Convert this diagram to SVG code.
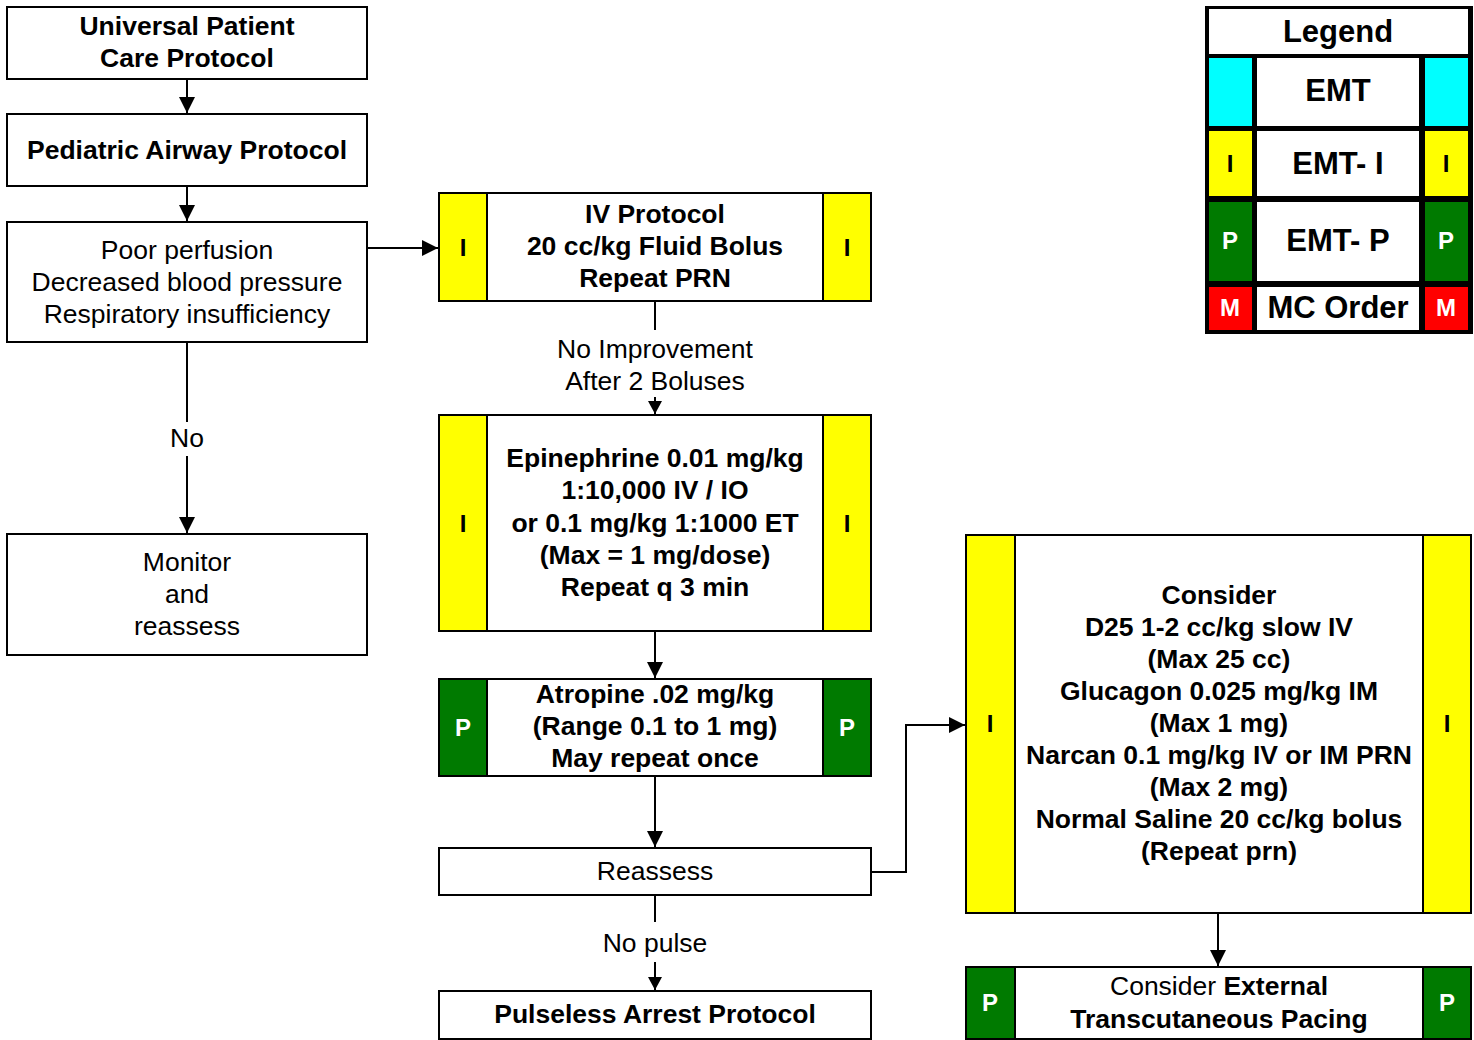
<svg xmlns="http://www.w3.org/2000/svg" width="1474" height="1040" viewBox="0 0 1474 1040">
<defs>
<marker id="ah" viewBox="0 0 16 16" refX="16" refY="8" markerWidth="16" markerHeight="16" markerUnits="userSpaceOnUse" orient="auto">
<path d="M0,0 L16,8 L0,16 Z" fill="#000"/>
</marker>
<marker id="ahs" viewBox="0 0 13 14" refX="13" refY="7" markerWidth="13" markerHeight="14" markerUnits="userSpaceOnUse" orient="auto">
<path d="M0,0 L13,7 L0,14 Z" fill="#000"/>
</marker>
</defs>
<style>
.box{fill:#fff;stroke:#000;stroke-width:2}
.y{fill:#ffff00;stroke:#000;stroke-width:2}
.g{fill:#007a00;stroke:#000;stroke-width:2}
.t{font-family:"Liberation Sans",Arial,sans-serif;font-size:26.5px;text-anchor:middle;fill:#000}
.b{font-weight:bold}
.w{fill:#fff}
.c{fill:none;stroke:#000;stroke-width:2}
.lg{font-size:31px}
.tag{font-size:24px;font-weight:bold}
</style>
<rect width="1474" height="1040" fill="#fff"/>

<g id="connectors">
<path class="c" d="M187,79 V113" marker-end="url(#ah)"/>
<path class="c" d="M187,186 V221" marker-end="url(#ah)"/>
<path class="c" d="M187,342 V422"/>
<path class="c" d="M187,456 V533" marker-end="url(#ah)"/>
<path class="c" d="M367,248 H438" marker-end="url(#ah)"/>
<path class="c" d="M655,301 V330"/>
<path class="c" d="M655,397 V414" marker-end="url(#ahs)"/>
<path class="c" d="M655,631 V678" marker-end="url(#ah)"/>
<path class="c" d="M655,776 V847" marker-end="url(#ah)"/>
<path class="c" d="M871,872 H906 V725 H965" marker-end="url(#ah)"/>
<path class="c" d="M655,895 V922"/>
<path class="c" d="M655,962 V990" marker-end="url(#ahs)"/>
<path class="c" d="M1218,913 V966" marker-end="url(#ah)"/>
<text class="t" x="187" y="447">No</text>
<text class="t" x="655" y="358">No Improvement</text>
<text class="t" x="655" y="390">After 2 Boluses</text>
<text class="t" x="655" y="952">No pulse</text>
</g>

<g id="universal">
<rect class="box" x="7" y="7" width="360" height="72"/>
<text class="t b" x="187" y="35">Universal Patient</text>
<text class="t b" x="187" y="67">Care Protocol</text>
</g>

<g id="pediatric-airway">
<rect class="box" x="7" y="114" width="360" height="72"/>
<text class="t b" x="187" y="159">Pediatric Airway Protocol</text>
</g>

<g id="poor-perfusion">
<rect class="box" x="7" y="222" width="360" height="120"/>
<text class="t" x="187" y="259">Poor perfusion</text>
<text class="t" x="187" y="291">Decreased blood pressure</text>
<text class="t" x="187" y="323">Respiratory insufficiency</text>
</g>

<g id="monitor">
<rect class="box" x="7" y="534" width="360" height="121"/>
<text class="t" x="187" y="571">Monitor</text>
<text class="t" x="187" y="603">and</text>
<text class="t" x="187" y="635">reassess</text>
</g>

<g id="iv-protocol">
<rect class="box" x="439" y="193" width="432" height="108"/>
<rect class="y" x="439" y="193" width="48" height="108"/>
<rect class="y" x="823" y="193" width="48" height="108"/>
<text class="t tag" x="463" y="256">I</text>
<text class="t tag" x="847" y="256">I</text>
<text class="t b" x="655" y="223">IV Protocol</text>
<text class="t b" x="655" y="255">20 cc/kg Fluid Bolus</text>
<text class="t b" x="655" y="287">Repeat PRN</text>
</g>

<g id="epinephrine">
<rect class="box" x="439" y="415" width="432" height="216"/>
<rect class="y" x="439" y="415" width="48" height="216"/>
<rect class="y" x="823" y="415" width="48" height="216"/>
<text class="t tag" x="463" y="532">I</text>
<text class="t tag" x="847" y="532">I</text>
<text class="t b" x="655" y="467">Epinephrine 0.01 mg/kg</text>
<text class="t b" x="655" y="499">1:10,000 IV / IO</text>
<text class="t b" x="655" y="532">or 0.1 mg/kg 1:1000 ET</text>
<text class="t b" x="655" y="564">(Max = 1 mg/dose)</text>
<text class="t b" x="655" y="596">Repeat q 3 min</text>
</g>

<g id="atropine">
<rect class="box" x="439" y="679" width="432" height="97"/>
<rect class="g" x="439" y="679" width="48" height="97"/>
<rect class="g" x="823" y="679" width="48" height="97"/>
<text class="t tag w" x="463" y="736">P</text>
<text class="t tag w" x="847" y="736">P</text>
<text class="t b" x="655" y="703">Atropine .02 mg/kg</text>
<text class="t b" x="655" y="735">(Range 0.1 to 1 mg)</text>
<text class="t b" x="655" y="767">May repeat once</text>
</g>

<g id="reassess">
<rect class="box" x="439" y="848" width="432" height="47"/>
<text class="t" x="655" y="880">Reassess</text>
</g>

<g id="pulseless">
<rect class="box" x="439" y="991" width="432" height="48"/>
<text class="t b" x="655" y="1023">Pulseless Arrest Protocol</text>
</g>

<g id="consider">
<rect class="box" x="966" y="535" width="505" height="378"/>
<rect class="y" x="966" y="535" width="49" height="378"/>
<rect class="y" x="1423" y="535" width="48" height="378"/>
<text class="t tag" x="990" y="732">I</text>
<text class="t tag" x="1447" y="732">I</text>
<text class="t b" x="1219" y="604">Consider</text>
<text class="t b" x="1219" y="636">D25 1-2 cc/kg slow IV</text>
<text class="t b" x="1219" y="668">(Max 25 cc)</text>
<text class="t b" x="1219" y="700">Glucagon 0.025 mg/kg IM</text>
<text class="t b" x="1219" y="732">(Max 1 mg)</text>
<text class="t b" x="1219" y="764">Narcan 0.1 mg/kg IV or IM PRN</text>
<text class="t b" x="1219" y="796">(Max 2 mg)</text>
<text class="t b" x="1219" y="828">Normal Saline 20 cc/kg bolus</text>
<text class="t b" x="1219" y="860">(Repeat prn)</text>
</g>

<g id="pacing">
<rect class="box" x="966" y="967" width="505" height="72"/>
<rect class="g" x="966" y="967" width="49" height="72"/>
<rect class="g" x="1423" y="967" width="48" height="72"/>
<text class="t tag w" x="990" y="1011">P</text>
<text class="t tag w" x="1447" y="1011">P</text>
<text class="t" x="1219" y="995">Consider <tspan class="b">External</tspan></text>
<text class="t b" x="1219" y="1028">Transcutaneous Pacing</text>
</g>

<g id="legend">
<rect x="1205" y="6" width="268" height="328" fill="#000"/>
<rect x="1209" y="9" width="259" height="45" fill="#fff"/>
<text class="t b lg" x="1338" y="42">Legend</text>
<rect x="1209" y="58" width="43" height="68" fill="#00ffff"/>
<rect x="1257" y="58" width="162" height="68" fill="#fff"/>
<rect x="1425" y="58" width="43" height="68" fill="#00ffff"/>
<text class="t b lg" x="1338" y="101">EMT</text>
<rect x="1209" y="131" width="43" height="65" fill="#ffff00"/>
<rect x="1257" y="131" width="162" height="65" fill="#fff"/>
<rect x="1425" y="131" width="43" height="65" fill="#ffff00"/>
<text class="t tag" x="1230" y="172">I</text>
<text class="t b lg" x="1338" y="174">EMT- I</text>
<text class="t tag" x="1446" y="172">I</text>
<rect x="1209" y="202" width="43" height="79" fill="#007a00"/>
<rect x="1257" y="202" width="162" height="79" fill="#fff"/>
<rect x="1425" y="202" width="43" height="79" fill="#007a00"/>
<text class="t tag w" x="1230" y="249">P</text>
<text class="t b lg" x="1338" y="251">EMT- P</text>
<text class="t tag w" x="1446" y="249">P</text>
<rect x="1209" y="287" width="43" height="43" fill="#ff0000"/>
<rect x="1257" y="287" width="162" height="43" fill="#fff"/>
<rect x="1425" y="287" width="43" height="43" fill="#ff0000"/>
<text class="t tag w" x="1230" y="316">M</text>
<text class="t b lg" x="1338" y="318">MC Order</text>
<text class="t tag w" x="1446" y="316">M</text>
</g>
</svg>
